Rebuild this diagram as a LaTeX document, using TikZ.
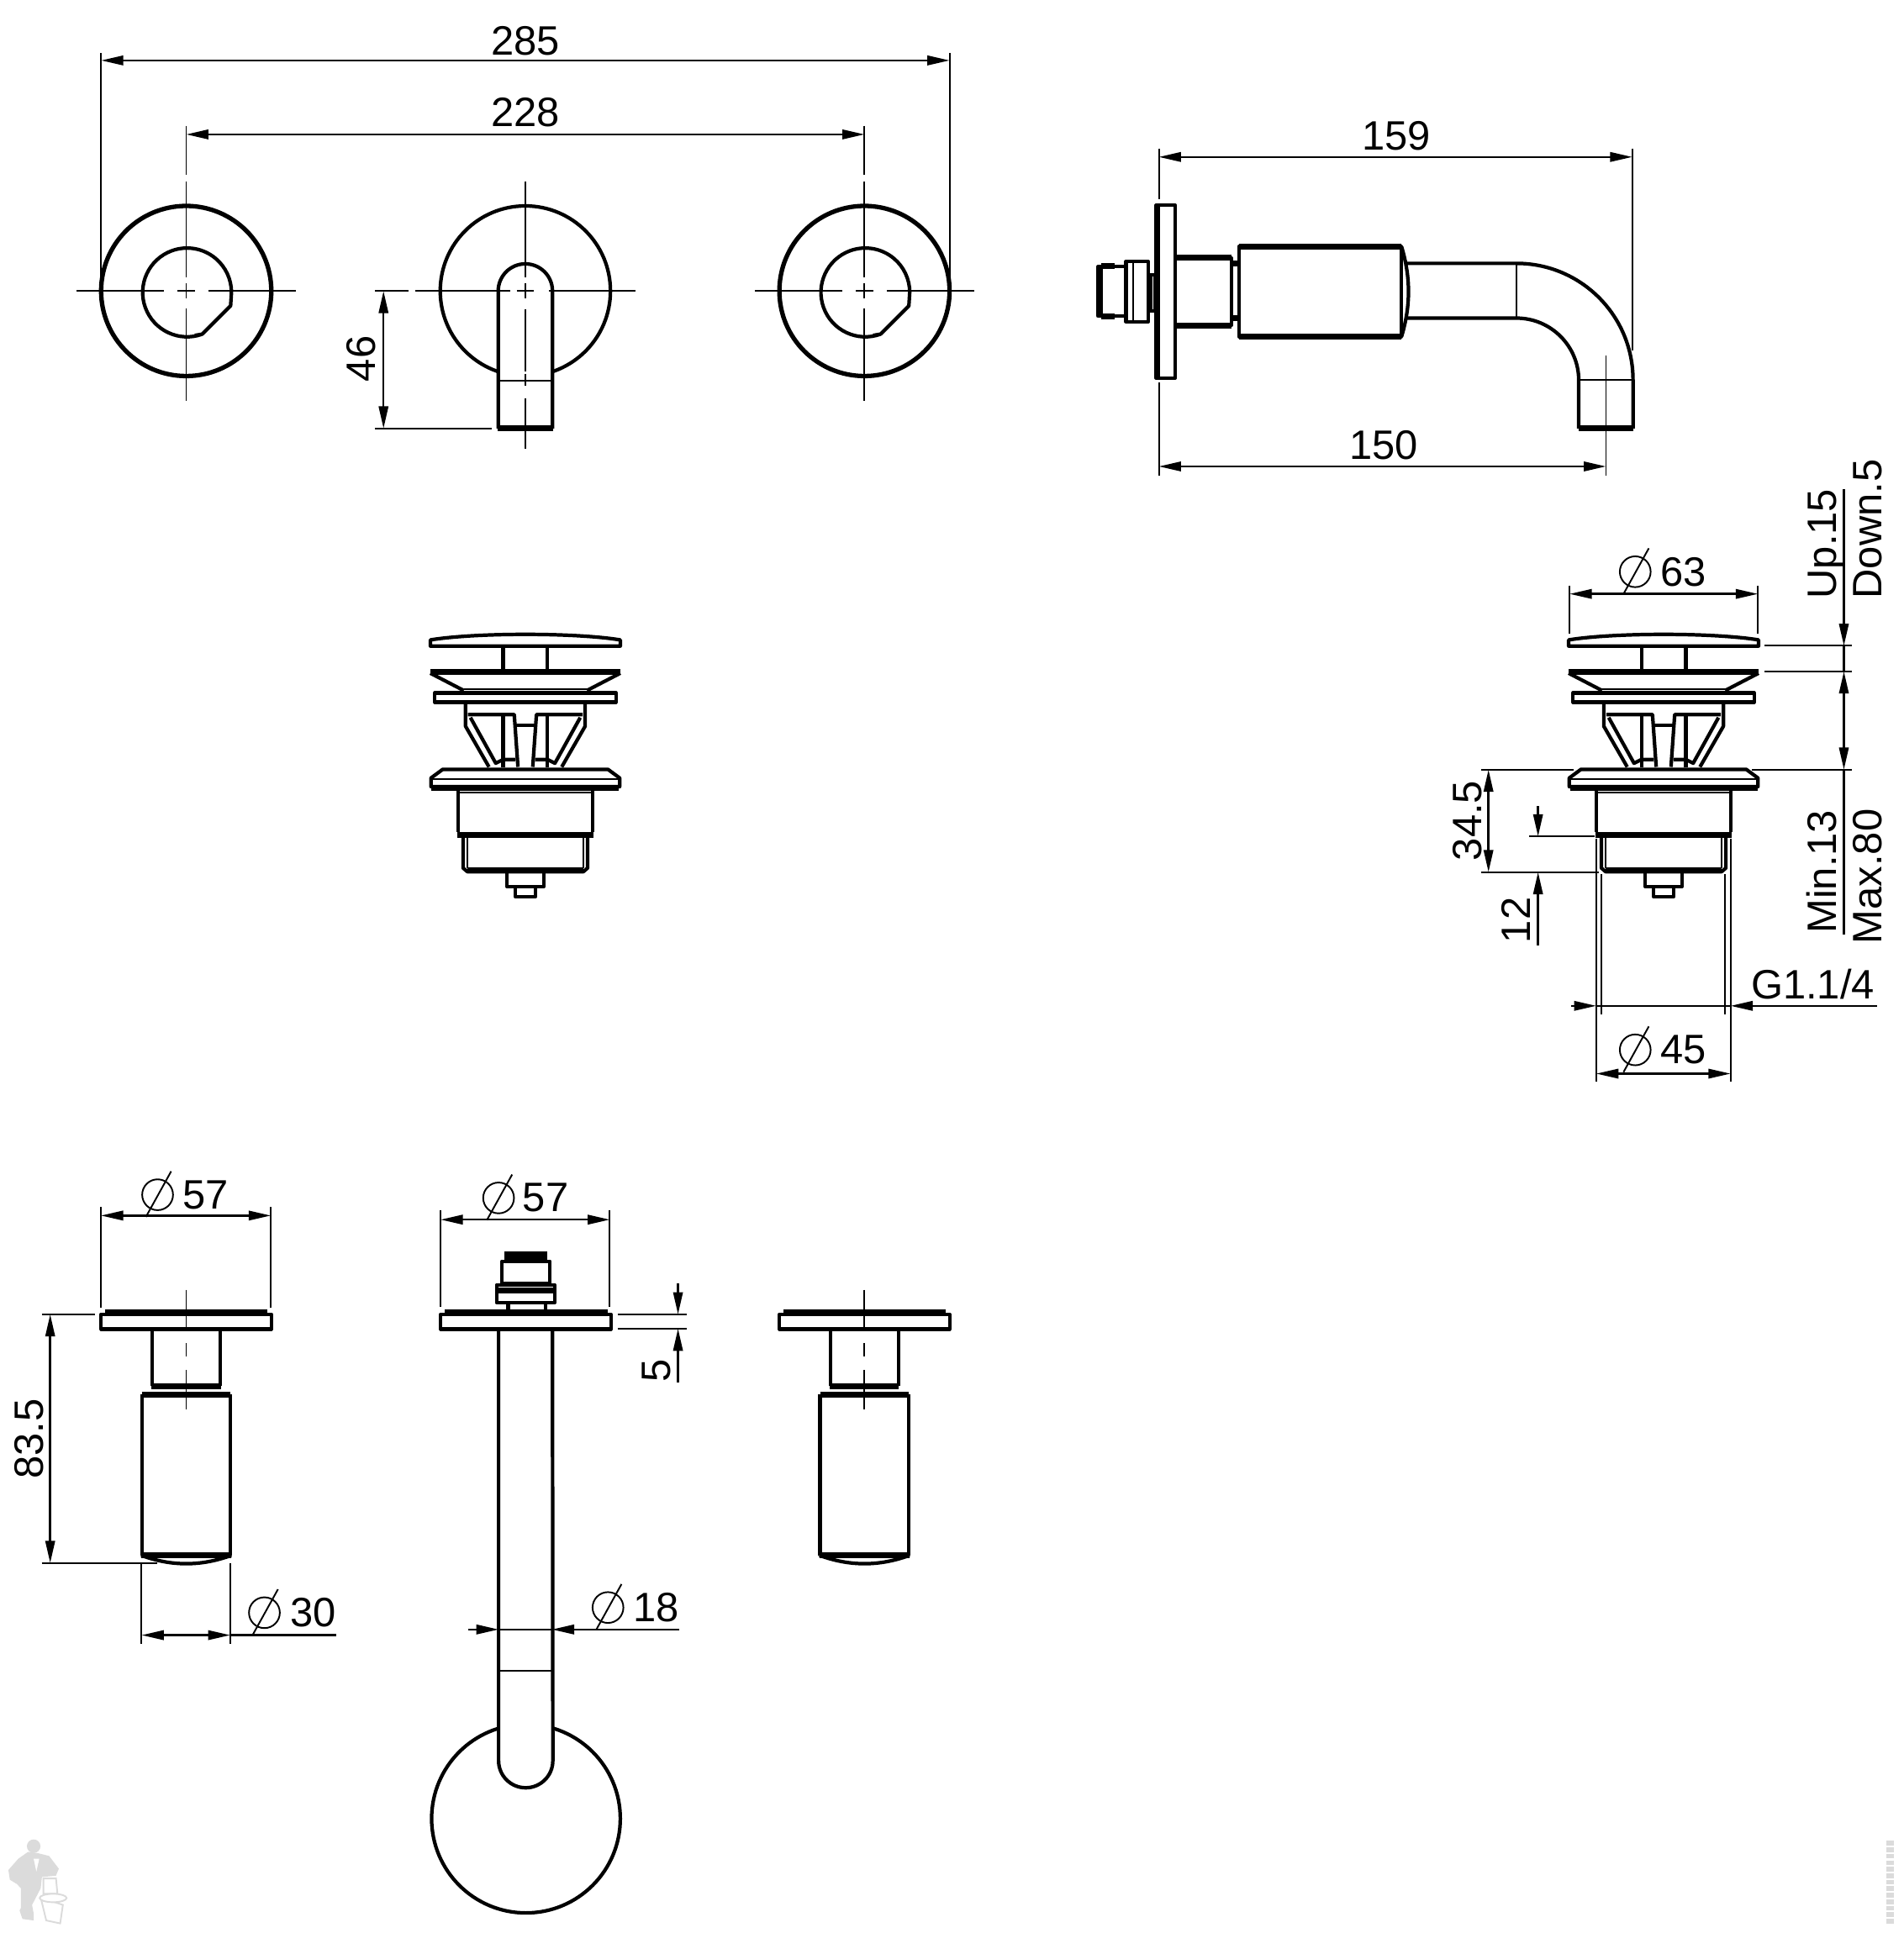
\documentclass[tikz,border=0pt]{standalone}
\usepackage{fontspec}
\setmainfont{Liberation Sans}
\usetikzlibrary{arrows.meta}

\tikzset{
  outline/.style={line width=1.2pt,line join=round},
  heavy/.style={line width=2pt},
  hair/.style={line width=.55pt},
  dimline/.style={line width=.7pt},
  dimend/.style={dimline,{Triangle[length=7.5pt,width=3.2pt]}-{Triangle[length=7.5pt,width=3.2pt]}},
  dimin/.style={dimline,-{Triangle[length=7.5pt,width=3.2pt]}},
  dimtext/.style={inner sep=0pt,font=\fontsize{13.9}{16}\selectfont},
  vtext/.style={dimtext,rotate=90},
  basetext/.style={dimtext,rotate=90,anchor=base west},
  ghost/.style={gray!28},
  %diameter sign
  dia/.pic={
    \draw[hair] (0,0) circle[radius=12.5];
    \draw[hair] (-9.5,18) -- (11,-19);
  },
  %handle seen from the front
  dialfront/.pic={
    \draw[outline,line width=1.5pt] (0,0) circle[radius=69];
    \draw[outline] (13,35) arc[start angle=70,end angle=360,radius=36] -- (36,12) -- (13,35) -- (7,36);
    \draw[hair] (-89,0) -- (-18,0) (-7,0) -- (7,0) (18,0) -- (89,0);
    \draw[hair] (0,-89) -- (0,-11) (0,-6) -- (0,6) (0,14) -- (0,89);
  },
  %handle seen from the side
  dialside/.pic={
    \draw[outline] (-69,1066) rectangle (69,1078);
    \fill (-66,1062) rectangle (66,1067);
    \draw[outline] (-27.5,1078) -- (-27.5,1124) (27.5,1078) -- (27.5,1124);
    \draw[heavy] (-28,1124.5) -- (28,1124.5);
    \draw[heavy] (-36,1131) -- (36,1131);
    \draw[outline] (-36,1131) -- (-36,1261.5) (36,1131) -- (36,1261.5);
    \draw[heavy] (-36.5,1261.5) -- (36.5,1261.5);
    \draw[outline] (-36.5,1261.5) .. controls (-12,1270.5) and (12,1270.5) .. (36.5,1261.5);
    \draw[hair] (0,1046) -- (0,1077) (0,1089.5) -- (0,1100) (0,1111) -- (0,1143);
  },
  %waste valve
  wastevalve/.pic={
    \draw[outline] (-77,519) .. controls (-40,513) and (40,513) .. (77,519) -- (77,524) -- (-77,524) -- cycle;
    \draw[outline] (-18,525) -- (-18,544) (18,525) -- (18,544);
    \draw[heavy] (-77,545) -- (77,545);
    \draw[outline] (-77,546) -- (-50,560) (77,546) -- (50,560);
    \draw[hair] (-50,559) -- (50,559);
    \draw[outline] (-73.5,562) rectangle (73.5,569.5);
    \draw[outline] (-48.5,569.5) -- (-48.5,589) -- (-29.5,622) (48.5,569.5) -- (48.5,589) -- (29.5,622);
    \draw[outline] (-46.5,579.5) -- (-9,579.5) -- (-6,622) (46.5,579.5) -- (9,579.5) -- (6,622);
    \draw[outline] (-18,579.5) -- (-18,622) (18,579.5) -- (18,622);
    \draw[outline] (-44.5,582) -- (-24,619) -- (-18,616) -- (-8,616);
    \draw[outline] (44.5,582) -- (24,619) -- (18,616) -- (8,616);
    \draw[outline] (-8,588.5) -- (8,588.5);
    \draw[outline] (-67,624) -- (67,624) -- (76.5,631) -- (76.5,638) -- (-76.5,638) -- (-76.5,631) -- cycle;
    \draw[hair] (-75,632) -- (75,632);
    \draw[heavy] (-76,639) -- (76,639);
    \draw[hair] (-54,642.5) -- (54,642.5);
    \draw[outline] (-54.5,639) -- (-54.5,675) (54.5,639) -- (54.5,675);
    \draw[heavy] (-55,677) -- (55,677);
    \draw[outline] (-50.5,678) -- (-50.5,704) -- (-47,707) -- (47,707) -- (50.5,704) -- (50.5,678);
    \draw[heavy] (-47,706) -- (47,706);
    \draw[hair] (-47,679) -- (-47,704) (47,679) -- (47,704);
    \draw[outline] (-15,708) -- (-15,719) -- (15,719) -- (15,708);
    \draw[outline] (-8,719) -- (-8,727.5) -- (8,727.5) -- (8,719);
  },
}

\begin{document}
\begin{tikzpicture}[x=0.01467cm,y=-0.01467cm]
  \useasboundingbox (0,0) rectangle (1543.3,1567.8);

  %front views
  \pic at (151,236) {dialfront};
  \pic at (701,236) {dialfront};
  \draw[outline] (426,236) circle[radius=69];
  \draw[outline,fill=white] (404,347.5) -- (404,236) arc[start angle=180,end angle=360,radius=22] -- (448,347.5);
  \draw[heavy] (403.5,347.5) -- (448.5,347.5);
  \draw[hair] (404,309) -- (448,309);
  \draw[hair] (337,236) -- (414,236) (419,236) -- (433,236) (445,236) -- (515,236);
  \draw[hair] (426,147) -- (426,225) (426,230) -- (426,242) (426,251) -- (426,301) (426,303) -- (426,313) (426,323) -- (426,364);

  %dimensions above the front views
  \draw[dimend] (82,49) -- (770,49);
  \draw[hair] (82,43) -- (82,236) (770,43) -- (770,236);
  \node[dimtext] (len285) at (426,33) {285};
  \draw[dimend] (151,109) -- (701,109);
  \draw[hair] (151,102) -- (151,142) (701,102) -- (701,142);
  \node[dimtext] (len228) at (426,91) {228};
  \draw[dimend] (311,236) -- (311,347.5);
  \draw[hair] (304,236) -- (331,236) (304,347.5) -- (399,347.5);
  \node[vtext] (len46) at (293,291) {46};

  %spout from the side
  \draw[outline] (937.5,166.5) rectangle (953,306.5);
  \fill (937,167) rectangle (941,306);
  \draw[outline] (953,209) -- (998.5,209) -- (998.5,264) -- (953,264);
  \draw[heavy] (953,209) -- (998.5,209) (953,264) -- (998.5,264);
  \draw[heavy] (998.5,213.5) -- (1004.5,213.5) (998.5,258) -- (1004.5,258);
  \draw[outline] (1004.5,200) rectangle (1136.5,273);
  \draw[heavy] (1004.5,200) -- (1136.5,200) (1004.5,273) -- (1136.5,273);
  \draw[outline] (1136.5,200) .. controls (1144,225) and (1144,248) .. (1136.5,273);
  \draw[outline] (1140.5,213.6) -- (1229.7,213.6) arc[start angle=270,end angle=360,radius=94.5] -- (1324.2,347.5);
  \draw[outline] (1140.5,258) -- (1229.7,258) arc[start angle=270,end angle=360,radius=50.5] -- (1280.2,347.5);
  \draw[heavy] (1280,347.5) -- (1324.5,347.5);
  \draw[hair] (1229.7,213.6) -- (1229.7,258) (1280.2,308) -- (1324.2,308);
  \draw[outline] (932.8,222.7) rectangle (936.5,252);
  \draw[outline] (913,212) rectangle (931,261);
  \draw[hair] (919,212) -- (919,261);
  \draw[outline] (913,216) -- (890.5,216) -- (890.5,256.5) -- (913,256.5);
  \draw[heavy] (893,216) -- (904,216) (893,256.5) -- (904,256.5) (892,217) -- (892,256);

  %dimensions of the spout
  \draw[dimend] (939.7,127.3) -- (1323.6,127.3);
  \draw[hair] (939.7,120.4) -- (939.7,161.8) (939.7,310) -- (939.7,385.6) (1323.6,120.4) -- (1323.6,284);
  \node[dimtext] (len159) at (1132.5,110) {159};
  \draw[dimend] (939.7,378.3) -- (1302.3,378.3);
  \draw[hair] (1302.3,288.6) -- (1302.3,385.6);
  \node[dimtext] (len150) at (1122,361) {150};

  %waste valves
  \pic at (426,0) {wastevalve};
  \pic at (1349,0) {wastevalve};

  %dimensions of the waste valve
  \draw[dimend] (1272.8,481.7) -- (1425.5,481.7);
  \draw[hair] (1272.8,474.9) -- (1272.8,513.9) (1425.5,474.9) -- (1425.5,513.9);
  \pic at (1326,463.7) {dia};
  \node[dimtext] (dia63) at (1365,463.7) {63};
  \draw[dimin] (1495.2,396.9) -- (1495.2,523.8);
  \draw[dimline] (1495.2,523.8) -- (1495.2,544.5);
  \draw[dimend] (1495.2,544.5) -- (1495.2,624.2);
  \draw[dimline] (1495.2,624.2) -- (1495.2,758);
  \draw[hair] (1430.8,523.8) -- (1501.8,523.8) (1430.8,544.5) -- (1501.8,544.5);
  \draw[hair] (1420.4,624.2) -- (1501.8,624.2) (1200.8,624.2) -- (1276.3,624.2);
  \node[basetext] (upstroke) at (1489,486) {Up.15};
  \node[basetext] (downstroke) at (1526,486) {Down.5};
  \node[basetext] (minthick) at (1489,757.5) {Min.13};
  \node[basetext] (maxthick) at (1526,766) {Max.80};
  \draw[dimend] (1207,624.2) -- (1207,707.3);
  \draw[hair] (1200.8,707.3) -- (1296.8,707.3);
  \node[vtext] (len345) at (1189.6,665.6) {34.5};
  \draw[dimin] (1247.2,653.7) -- (1247.2,678.4);
  \draw[dimin] (1247.2,766.6) -- (1247.2,707.3);
  \draw[hair] (1240,678.4) -- (1293.4,678.4);
  \node[vtext] (len12) at (1229.3,746.3) {12};
  \draw[hair] (1294.4,680) -- (1294.4,877) (1403.3,680) -- (1403.3,877);
  \draw[hair] (1298.7,709) -- (1298.7,822.6) (1399,709) -- (1399,822.6);
  \draw[dimin] (1274,815.8) -- (1294.4,815.8);
  \draw[dimline] (1294.4,815.8) -- (1403.3,815.8);
  \draw[dimin] (1521.8,815.8) -- (1403.3,815.8);
  \node[dimtext] (thread) at (1470,798.5) {G1.1/4};
  \draw[dimend] (1294.4,870.8) -- (1403.3,870.8);
  \pic at (1326,851.5) {dia};
  \node[dimtext] (dia45) at (1365,851.5) {45};

  %side views of the handles
  \pic at (151,0) {dialside};
  \pic at (701,0) {dialside};

  %dimensions of the left handle
  \draw[dimend] (81.9,985.9) -- (219.6,985.9);
  \draw[hair] (81.9,978.9) -- (81.9,1060.6) (219.6,978.9) -- (219.6,1060.6);
  \pic at (127.8,969) {dia};
  \node[dimtext] (dia57a) at (167,969) {57};
  \draw[dimend] (40.7,1066) -- (40.7,1267.7);
  \draw[hair] (33.9,1066) -- (77.2,1066) (33.9,1267.7) -- (127.8,1267.7);
  \node[vtext] (len835) at (23.5,1167) {83.5};
  \draw[dimend] (114.8,1326.2) -- (186.7,1326.2);
  \draw[dimline] (186.7,1326.2) -- (272.8,1326.2);
  \draw[hair] (114.8,1268) -- (114.8,1333) (186.7,1268) -- (186.7,1333);
  \pic at (214.4,1308) {dia};
  \node[dimtext] (dia30) at (254,1308) {30};

  %spout from above
  \draw[outline] (426.5,1475) circle[radius=76.5];
  \draw[outline,fill=white] (404.3,1079) -- (404.3,1428) arc[start angle=180,end angle=0,radius=22] -- (448,1079);
  \draw[hair] (404.3,1355.4) -- (448,1355.4);
  \draw[outline,fill=white] (357.3,1066) rectangle (495.5,1078);
  \fill (360.5,1062) rectangle (492.5,1067);
  \draw[outline] (412,1058) -- (412,1062) (442.4,1058) -- (442.4,1062);
  \draw[outline] (402.7,1042) rectangle (449.7,1056.6);
  \draw[heavy] (402,1046.5) -- (450,1046.5);
  \draw[outline] (406.9,1023) rectangle (446,1041);
  \fill (409,1015) rectangle (444,1023);

  %dimensions of the spout from above
  \draw[dimend] (357.3,989.2) -- (494.5,989.2);
  \draw[hair] (357.3,981.9) -- (357.3,1060) (494.5,981.9) -- (494.5,1060);
  \pic at (404.3,971.6) {dia};
  \node[dimtext] (dia57b) at (442.4,971.6) {57};
  \draw[dimin] (549.8,1041.2) -- (549.8,1066);
  \draw[dimin] (549.8,1121.3) -- (549.8,1077.6);
  \draw[hair] (500.8,1066) -- (557,1066) (500.8,1077.6) -- (557,1077.6);
  \node[vtext] (len5) at (532,1111.8) {5};
  \draw[dimin] (379.8,1321.6) -- (404.3,1321.6);
  \draw[dimline] (404.3,1321.6) -- (447.6,1321.6);
  \draw[dimin] (551,1321.6) -- (447.6,1321.6);
  \pic at (493,1303.8) {dia};
  \node[dimtext] (dia18) at (532,1303.8) {18};

  %plumber in the corner
  \fill[ghost] (22.7,1502) -- (14.8,1507.6) -- (6.8,1516.7) -- (8,1524.6) -- (13.6,1528) -- (17,1531.5) -- (17,1547.4) -- (15.9,1549.6) -- (18.2,1556.4) -- (27.3,1557.6) -- (27.3,1552) -- (26,1545) -- (33,1531.5) -- (34,1522.4) -- (45.4,1521.3) -- (47.7,1515.6) -- (39.8,1505.3) -- (30.7,1503) -- cycle;
  \fill[ghost] (27.3,1497.4) circle[radius=5.5];
  \fill[white] (27.3,1507.6) -- (31.8,1507.6) -- (29.5,1517.9) -- cycle;
  \draw[ghost,fill=white,hair] (35.2,1523.5) -- (45.4,1523.5) -- (46.6,1536) -- (35.2,1536) -- cycle;
  \draw[ghost,fill=white,hair] (33,1539) -- (37.5,1557.6) -- (48.8,1560) -- (51,1545) -- cycle;
  \draw[ghost,fill=white,hair] (43.1,1539.4) ellipse[x radius=10.9,y radius=3.4];

  %faint mark on the right edge
  \draw[ghost,line width=2.6pt,dash pattern=on 1.6pt off .6pt] (1532.5,1493) -- (1532.5,1560);
\end{tikzpicture}
\end{document}
